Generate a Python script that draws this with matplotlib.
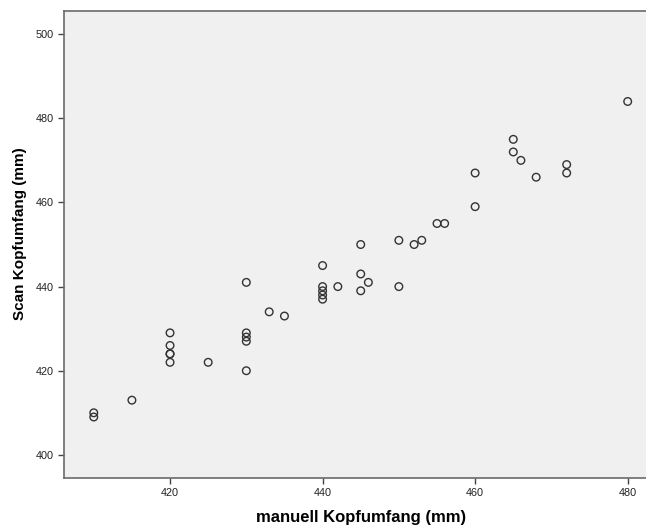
import matplotlib
matplotlib.use('Agg')
import matplotlib.pyplot as plt

# manuell vs. scan head circumference (mm)
manuell = [410, 410, 415,
           420, 420, 420, 420, 420, 425,
           430, 430, 430, 430, 430, 433, 435,
           440, 440, 440, 440, 440, 442,
           445, 445, 445, 446, 450, 450, 452, 453,
           455, 456, 460, 460, 465, 465, 466, 468,
           472, 472, 480]
scan = [410, 409, 413,
        429, 426, 424, 424, 422, 422,
        441, 429, 428, 427, 420, 434, 433,
        445, 440, 439, 438, 437, 440,
        450, 443, 439, 441, 451, 440, 450, 451,
        455, 455, 467, 459, 475, 472, 470, 466,
        469, 467, 484]

plt.rcParams['font.family'] = ['Liberation Sans', 'DejaVu Sans']

fig = plt.figure(figsize=(6.46, 5.30), dpi=100)
ax = fig.add_axes([0.0991, 0.0981, 0.9009, 0.8811])
ax.set_facecolor('#f0f0f0')

ax.scatter(manuell, scan, s=30, facecolors='none', edgecolors='#333333',
           linewidths=1.0, zorder=3)

ax.set_xlim(406.1, 482.4)
ax.set_ylim(394.5, 505.5)
ax.set_xticks([420, 440, 460, 480])
ax.set_yticks([400, 420, 440, 460, 480, 500])
ax.tick_params(direction='out', length=4, width=1, colors='#444444',
               labelsize=7.8, labelcolor='#222222')

for side in ['left', 'bottom', 'top']:
    ax.spines[side].set_color('#6a6a6a')
    ax.spines[side].set_linewidth(1.2)
ax.spines['right'].set_visible(False)

ax.set_xlabel('manuell Kopfumfang (mm)', fontsize=12, fontweight='bold',
              va='center')
ax.set_ylabel('Scan Kopfumfang (mm)', fontsize=11, fontweight='bold',
              va='center')
ax.xaxis.set_label_coords(0.510, -0.0835)
ax.yaxis.set_label_coords(-0.0756, 0.5225)

fig.savefig('out.png', dpi=100)
